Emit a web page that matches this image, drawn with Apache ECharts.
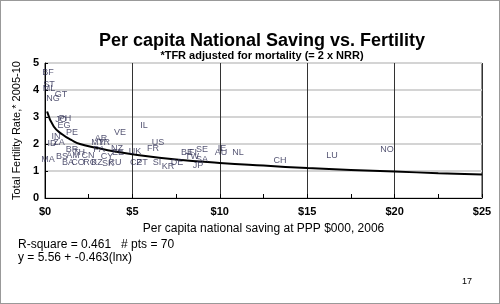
<!DOCTYPE html>
<html>
<head>
<meta charset="utf-8">
<script src="https://cdn.jsdelivr.net/npm/echarts@6/dist/echarts.min.js"></script>
<style>
  html, body { margin: 0; padding: 0; background: #fff; }
  #chart { width: 500px; height: 304px; }
</style>
</head>
<body>
<div id="chart"></div>
<script>
// country labels and their (saving $000, TFR) positions
var codes = ['BF', 'ST', 'ML', 'NG', 'GT', 'JO', 'PH', 'EG', 'PE', 'IN', 'ID', 'ZA',
  'AR', 'MY', 'TR', 'NZ', 'EE', 'VE', 'BR', 'TH', 'PA', 'MA', 'BS', 'AM', 'CN', 'CY',
  'BA', 'CO', 'RO', 'KZ', 'SK', 'RU', 'UK', 'FR', 'US', 'CZ', 'PT', 'SI', 'KR', 'DE',
  'BE', 'FI', 'SE', 'TW', 'SA', 'JP', 'IE', 'AU', 'NL', 'CH', 'LU', 'NO', 'IL']
var saving = [0.17, 0.23, 0.23, 0.46, 0.92, 0.92, 1.14, 1.09, 1.54, 0.63, 0.40, 0.80,
  3.20, 3.03, 3.38, 4.12, 4.18, 4.29, 1.54, 1.95, 3.09, 0.17, 0.97, 1.60, 2.46, 3.55,
  1.32, 1.89, 2.57, 2.97, 3.60, 4.00, 5.15, 6.18, 6.46, 5.21, 5.55, 6.41, 7.04, 7.55,
  8.12, 8.47, 8.98, 8.41, 8.98, 8.75, 10.13, 10.07, 11.04, 13.44, 16.42, 19.57, 5.66]
var tfr = [4.63, 4.22, 4.07, 3.70, 3.85, 2.89, 2.96, 2.67, 2.44, 2.26, 2.00, 2.04,
  2.22, 2.07, 2.04, 1.85, 1.67, 2.41, 1.78, 1.67, 1.78, 1.44, 1.52, 1.56, 1.59, 1.52,
  1.30, 1.30, 1.30, 1.30, 1.26, 1.30, 1.74, 1.85, 2.04, 1.33, 1.33, 1.33, 1.15, 1.30,
  1.70, 1.70, 1.78, 1.52, 1.44, 1.22, 1.85, 1.70, 1.67, 1.37, 1.59, 1.81, 2.70]

// fitted curve as drawn
var fitX = [0.12, 0.5, 1, 1.5, 2, 3, 4, 5, 7.5, 10, 12.5, 15, 17.5, 20, 22.5, 25]
var fitY = [3.20, 2.65, 2.35, 2.15, 2.00, 1.85, 1.72, 1.62, 1.43, 1.30, 1.20, 1.11, 1.04, 0.98, 0.92, 0.87]

var xTicks = [0, 25, 5]
var yTicks = [0, 5, 1]

var chart = echarts.init(document.getElementById('chart'))

var pts = codes.map(function(c, i) { return { value: [saving[i], tfr[i]], name: c } })
var fit = fitX.map(function(x, i) { return [x, fitY[i]] })

chart.setOption({
  animation: false,
  grid: { left: 45, right: 18, top: 63, bottom: 106, show: true, borderColor: '#222', borderWidth: 1 },
  xAxis: {
    type: 'value', min: xTicks[0], max: xTicks[1], interval: xTicks[2],
    axisLine: { lineStyle: { color: '#000', width: 1 } },
    axisTick: { inside: true, length: 4, lineStyle: { color: '#000' } },
    minorTick: { show: true, splitNumber: 2, length: 4, lineStyle: { color: '#000' } },
    splitLine: { show: true, lineStyle: { color: '#333', width: 1 } },
    axisLabel: { color: '#000', fontWeight: 'bold', fontSize: 11, fontFamily: 'Liberation Sans', margin: 8,
      formatter: function(v) { return '$' + v } },
    name: 'Per capita national saving at PPP $000, 2006',
    nameLocation: 'middle', nameGap: 25,
    nameTextStyle: { color: '#000', fontSize: 12, fontFamily: 'Liberation Sans' }
  },
  yAxis: {
    type: 'value', min: yTicks[0], max: yTicks[1], interval: yTicks[2],
    axisLine: { show: true, lineStyle: { color: '#000', width: 1 } },
    axisTick: { show: true, inside: true, length: 3, lineStyle: { color: '#000' } },
    splitLine: { show: true, lineStyle: { color: '#d4d4d4', width: 2 } },
    axisLabel: { color: '#000', fontWeight: 'bold', fontSize: 11, fontFamily: 'Liberation Sans', margin: 6 },
    name: 'Total Fertility Rate,* 2005-10',
    nameLocation: 'middle', nameGap: 19,
    nameTextStyle: { color: '#000', fontSize: 11, fontFamily: 'Liberation Sans' }
  },
  series: [
    {
      type: 'line', data: fit, smooth: true, symbol: 'none', z: 3,
      lineStyle: { color: '#000', width: 2 }
    },
    {
      type: 'scatter', data: pts, symbolSize: 1, z: 4,
      itemStyle: { color: 'rgba(0,0,0,0)' },
      label: {
        show: true, position: 'inside', formatter: '{b}',
        color: '#2a2a50', fontSize: 9, fontFamily: 'Liberation Sans'
      },
      labelLayout: { hideOverlap: false }
    }
  ],
  graphic: [
    { type: 'rect', shape: { x: 0, y: 0, width: 500, height: 304 }, z: -1,
      style: { fill: 'none', stroke: '#999', lineWidth: 2 } },
    { type: 'text', z: 10,
      style: { x: 262, y: 41, text: 'Per capita National Saving vs. Fertility', textAlign: 'center', textVerticalAlign: 'middle',
        font: 'bold 18px "Liberation Sans"', fill: '#000' } },
    { type: 'text', z: 10,
      style: { x: 262, y: 56, text: '*TFR adjusted for mortality (= 2 x NRR)', textAlign: 'center', textVerticalAlign: 'middle',
        font: 'bold 11px "Liberation Sans"', fill: '#000' } },
    { type: 'text', left: 18, top: 239,
      style: { text: 'R-square = 0.461   # pts = 70', font: '12px "Liberation Sans"', fill: '#000' } },
    { type: 'text', left: 18, top: 252,
      style: { text: 'y = 5.56 + -0.463(lnx)', font: '12px "Liberation Sans"', fill: '#000' } },
    { type: 'text', left: 462, top: 277,
      style: { text: '17', font: '9px "Liberation Sans"', fill: '#000' } }
  ]
})
</script>
</body>
</html>
